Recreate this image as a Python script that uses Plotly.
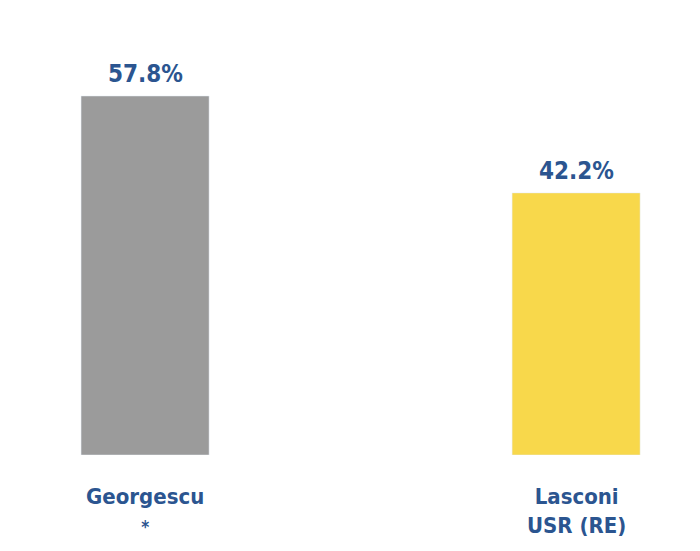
import plotly.graph_objects as go

categories = ["Georgescu", "Lasconi"]
sublabels = ["*", "USR (RE)"]
values = [57.8, 42.2]
value_labels = ["57.8%", "42.2%"]
colors = ["#9b9b9b", "#f8d84b"]

FONT = "DejaVu Sans Condensed, Liberation Sans Narrow, sans-serif"
TXT = "#2b5590"

fig = go.Figure()
fig.add_trace(go.Bar(
    x=categories, y=values, marker_color=colors, width=0.297,
    hoverinfo="skip",
))

for c, v, t in zip(categories, values, value_labels):
    fig.add_annotation(x=c, y=v, xref="x", yref="y", text="<b>%s</b>" % t,
                       showarrow=False, yanchor="bottom", yshift=6,
                       font=dict(family=FONT, size=24, color=TXT))

for c, s in zip(categories, sublabels):
    if s == "*":
        txt = "<b>%s</b><br><b><span style='font-size:17px'>%s</span></b>" % (c, s)
    else:
        txt = "<b>%s</b><br><b>%s</b>" % (c, s)
    fig.add_annotation(x=c, y=0, xref="x", yref="y", text=txt,
                       showarrow=False, yanchor="top", yshift=-27,
                       font=dict(family=FONT, size=22, color=TXT))

fig.update_layout(
    width=700, height=551,
    margin=dict(l=0, r=0, t=0, b=104),
    paper_bgcolor="white", plot_bgcolor="white",
    showlegend=False,
    xaxis=dict(range=[-0.318, 1.306], showticklabels=False, showgrid=False,
               zeroline=False, showline=False, ticks=""),
    yaxis=dict(range=[0, 71.97], visible=False, showgrid=False, zeroline=False),
)
fig.write_html("out.html")
